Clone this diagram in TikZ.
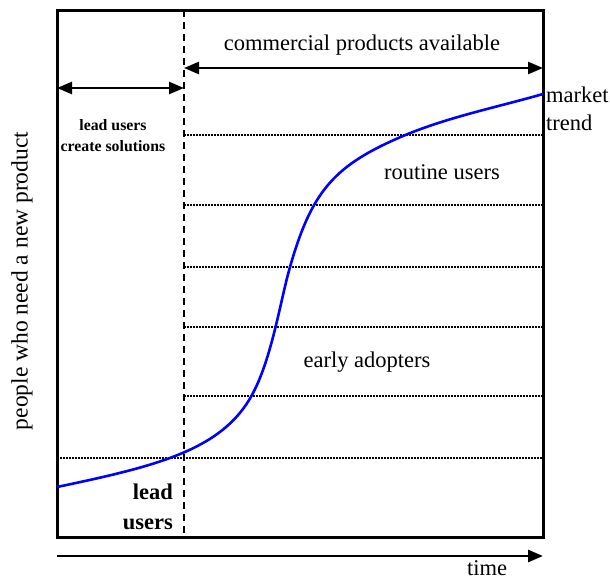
\documentclass[tikz,border=0pt]{standalone}
\usepackage{fontspec}
\setmainfont{Liberation Serif}
\usetikzlibrary{arrows.meta}
\begin{document}
\begin{tikzpicture}[x=1pt,y=-1pt,
  frame/.style={line width=3pt},
  divider/.style={line width=2.4pt,dash pattern=on 7pt off 5pt},
  level/.style={line width=2pt,dash pattern=on 1.6pt off 1.4pt},
  span/.style={line width=2.6pt,{Triangle[length=15pt,width=12pt]}-{Triangle[length=15pt,width=12pt]}},
  onearrow/.style={line width=2.8pt,-{Triangle[length=15pt,width=12pt]}},
  trend/.style={blue,line width=2.6pt},
  lbl/.style={font=\fontsize{22.5}{26}\selectfont,inner sep=0pt},
  blbl/.style={font=\bfseries\fontsize{15.8}{21}\selectfont,inner sep=0pt}]
\useasboundingbox (0,0) rectangle (610,581);

% axis frame and divider
\coordinate (tl) at (57,10);
\coordinate (br) at (543,537);
\coordinate (dtop) at (184,10);
\coordinate (dbot) at (184,537);

% horizontal user levels
\foreach \y/\n in {135/a,205/b,267/c,327/d,396/e}{
  \coordinate (l\n) at (184,\y);
  \coordinate (r\n) at (543,\y);
  \draw[level] (l\n) -- (r\n);
}
\coordinate (lf) at (57,458);
\coordinate (rf) at (543,458);
\draw[level] (lf) -- (rf);

\draw[divider] (dtop) -- (dbot);
\draw[frame] (tl) rectangle (br);

% market trend curve: slow start, steep take-off, flattening out
\coordinate (m0) at (57,487);
\coordinate (m1) at (252,395);
\coordinate (m2) at (290,267);
\coordinate (m3) at (403,136);
\coordinate (m4) at (543,94);
\draw[trend] (m0) .. controls (157,466) and (222,450) .. (m1)
  .. controls (272,358) and (280,302) .. (m2)
  .. controls (312,190) and (335,165) .. (m3)
  .. controls (448,117) and (498,107) .. (m4);

% spans at the top
\coordinate (ca) at (184,68);
\coordinate (cb) at (543,68);
\draw[span] (ca) -- (cb);
\coordinate (la) at (57,88);
\coordinate (lb) at (184,88);
\draw[span] (la) -- (lb);

% time axis
\coordinate (ta) at (57,556);
\coordinate (tb) at (543,556);
\draw[onearrow] (ta) -- (tb);

% labels
\node[lbl] (cpa) at (362,45) {commercial products available};
\node[blbl,align=center] (luc) at (113,136) {lead users\\create solutions};
\node[lbl,align=left,anchor=west,font=\fontsize{22.5}{28}\selectfont] (mt) at (546,109) {market\\trend};
\node[lbl] (ru) at (442,172) {routine users};
\node[lbl] (ea) at (367,362) {early adopters};
\node[blbl,align=right,anchor=east,font=\bfseries\fontsize{22.5}{30}\selectfont] (lu) at (173,507) {lead\\users};
\node[lbl,anchor=base] (tm) at (487,575) {time};
\node[lbl,rotate=90,font=\fontsize{23.5}{26}\selectfont] (yl) at (22,281) {people who need a new product};
\end{tikzpicture}
\end{document}
